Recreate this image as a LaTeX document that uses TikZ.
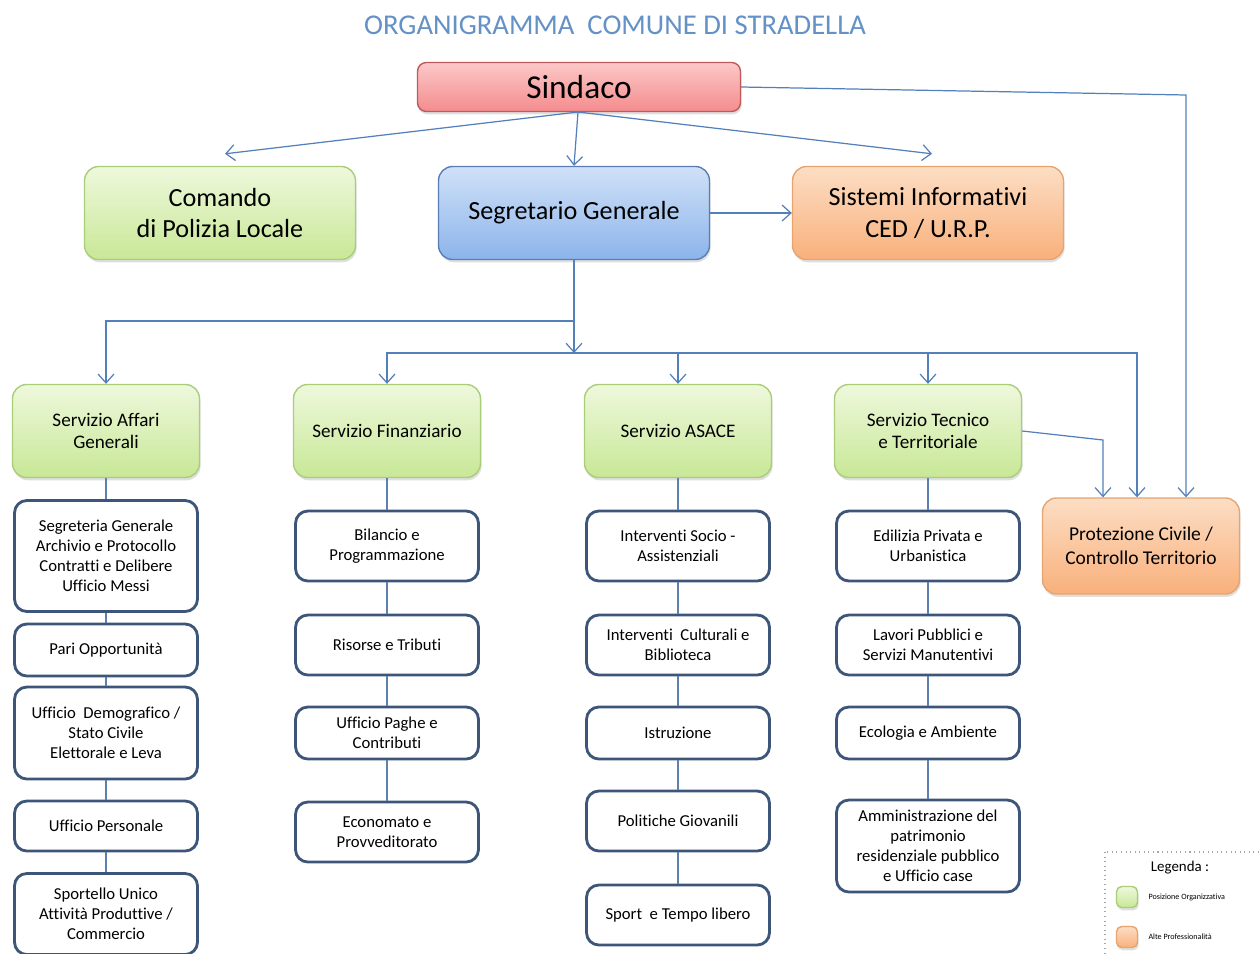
\documentclass[tikz,border=0pt]{standalone}
\usepackage{fontspec}
\setmainfont{Carlito}[Ligatures={NoCommon}]
\usepackage{tikz}
\usetikzlibrary{positioning,arrows.meta,shadows,calc}
\definecolor{linea}{RGB}{84,128,186}
\definecolor{titolo}{RGB}{100,145,198}
\definecolor{verdesu}{RGB}{238,248,220}
\definecolor{verdegiu}{RGB}{200,232,150}
\definecolor{verdebordo}{RGB}{170,205,120}
\definecolor{blusu}{RGB}{208,225,248}
\definecolor{blugiu}{RGB}{140,180,235}
\definecolor{blubordo}{RGB}{90,125,180}
\definecolor{arancsu}{RGB}{252,222,196}
\definecolor{arancgiu}{RGB}{249,176,124}
\definecolor{arancbordo}{RGB}{230,165,110}
\definecolor{rossosu}{RGB}{252,200,200}
\definecolor{rossogiu}{RGB}{244,140,142}
\definecolor{rossobordo}{RGB}{190,90,90}
\definecolor{ufficio}{RGB}{60,85,120}

\tikzset{
    conn/.style={draw=linea, line width=0.7pt, -{Straight Barb[length=5pt,width=9pt]}},
    link/.style={draw=linea!80!gray, line width=0.7pt},
    ombra/.style={drop shadow={opacity=0.25, shadow xshift=0.6pt, shadow yshift=-1.6pt}},
    verde/.style={rounded corners=8pt, draw=verdebordo, line width=0.8pt, top color=verdesu, bottom color=verdegiu, ombra, align=center, inner sep=0pt},
    arancio/.style={rounded corners=8pt, draw=arancbordo, line width=0.8pt, top color=arancsu, bottom color=arancgiu, ombra, align=center, inner sep=0pt},
    uff/.style={rounded corners=7pt, draw=ufficio, line width=1.6pt, fill=white, align=center, inner sep=0pt,
        minimum width=3.66cm, font=\fontsize{9.5}{11.4}\selectfont},
}

\begin{document}
\begin{tikzpicture}[x=0.02cm, y=-0.02cm]
    \useasboundingbox (0,0) rectangle (1260,953);
    \fill[white] (0,0) rectangle (1260,953);

    % TITOLO
    \node[text=titolo, font=\fontsize{16.3}{19}\selectfont] (titolo) at (615,25) {ORGANIGRAMMA\ \ COMUNE DI STRADELLA};

    % VERTICE
    \node[rounded corners=5pt, draw=rossobordo, line width=0.8pt, top color=rossosu, bottom color=rossogiu, ombra,
          minimum width=6.46cm, minimum height=0.98cm, font=\fontsize{19}{22}\selectfont] (sin) at (579,87) {Sindaco};

    % SECONDO LIVELLO
    \node[verde, minimum width=5.42cm, minimum height=1.86cm, font=\fontsize{14.9}{18}\selectfont] (pol) at (220,213) {Comando\\di Polizia Locale};
    \node[rounded corners=8pt, draw=blubordo, line width=0.8pt, top color=blusu, bottom color=blugiu, ombra, inner sep=0pt,
          minimum width=5.42cm, minimum height=1.86cm, font=\fontsize{14.9}{18}\selectfont] (seg) at (574,213) {Segretario Generale};
    \node[arancio, minimum width=5.42cm, minimum height=1.86cm, font=\fontsize{14.9}{18}\selectfont] (ced) at (928,213) {Sistemi Informativi\\CED / U.R.P.};

    % SERVIZI
    \tikzset{serv/.style={verde, minimum width=3.74cm, minimum height=1.86cm, font=\fontsize{10.9}{13}\selectfont}}
    \node[serv] (aff) at (106,431) {Servizio Affari\\Generali};
    \node[serv] (fin) at (387,431) {Servizio Finanziario};
    \node[serv] (asa) at (678,431) {Servizio ASACE};
    \node[serv] (tec) at (928,431) {Servizio Tecnico\\e Territoriale};
    \node[arancio, minimum width=3.94cm, minimum height=1.92cm, font=\fontsize{11.1}{13.6}\selectfont] (pro) at (1141,546) {Protezione Civile /\\Controllo Territorio};

    % UFFICI - Affari Generali
    \node[uff, minimum height=2.22cm] (aff1) at (106,556) {Segreteria Generale\\Archivio e Protocollo\\Contratti e Delibere\\Ufficio Messi};
    \node[uff, minimum height=1.04cm] (aff2) at (106,650) {Pari Opportunità};
    \node[uff, minimum height=1.84cm] (aff3) at (106,733) {Ufficio\ \ Demografico /\\Stato Civile\\Elettorale e Leva};
    \node[uff, minimum height=1.0cm] (aff4) at (106,826) {Ufficio Personale};
    \node[uff, minimum height=1.62cm] (aff5) at (106,914) {Sportello Unico\\Attività Produttive /\\Commercio};

    % UFFICI - Finanziario
    \node[uff, minimum height=1.4cm] (fin1) at (387,546) {Bilancio e\\Programmazione};
    \node[uff, minimum height=1.2cm] (fin2) at (387,645) {Risorse e Tributi};
    \node[uff, minimum height=1.04cm] (fin3) at (387,733) {Ufficio Paghe e\\Contributi};
    \node[uff, minimum height=1.2cm] (fin4) at (387,832) {Economato e\\Provveditorato};

    % UFFICI - ASACE
    \node[uff, minimum height=1.4cm] (asa1) at (678,546) {Interventi Socio -\\Assistenziali};
    \node[uff, minimum height=1.2cm] (asa2) at (678,645) {Interventi\ \ Culturali e\\Biblioteca};
    \node[uff, minimum height=1.04cm] (asa3) at (678,733) {Istruzione};
    \node[uff, minimum height=1.2cm] (asa4) at (678,821) {Politiche Giovanili};
    \node[uff, minimum height=1.2cm] (asa5) at (678,915) {Sport\ \ e Tempo libero};

    % UFFICI - Tecnico
    \node[uff, minimum height=1.4cm] (tec1) at (928,546) {Edilizia Privata e\\Urbanistica};
    \node[uff, minimum height=1.2cm] (tec2) at (928,645) {Lavori Pubblici e\\Servizi Manutentivi};
    \node[uff, minimum height=1.04cm] (tec3) at (928,733) {Ecologia e Ambiente};
    \node[uff, minimum height=1.84cm] (tec4) at (928,846) {Amministrazione del\\patrimonio\\residenziale pubblico\\e Ufficio case};

    % COLLEGAMENTI DAL SINDACO
    \coordinate (sinbase) at (578,112);
    \coordinate (sinturn) at (1186,95);
    \draw[conn] (sinbase) -- ($(pol.north)+(5,-12)$);
    \draw[conn] (sinbase) -- (seg.north);
    \draw[conn] (sinbase) -- ($(ced.north)+(4,-12)$);
    \draw[conn] (sin.east) -- (sinturn) -- (sinturn |- pro.north);
    \draw[conn] (seg.east) -- (ced.west);

    % COLLEGAMENTI DAL SEGRETARIO
    \coordinate (split) at (574,321);
    \coordinate (bus) at (574,353);
    \coordinate (busend) at (1137,353);
    \draw[conn] (seg.south) -- (bus);
    \draw[conn] (split) -| (aff.north);
    \draw[conn] (bus) -| (fin.north);
    \draw[conn] (bus) -| (asa.north);
    \draw[conn] (bus) -| (tec.north);
    \draw[conn] (bus) -- (busend) -- (busend |- pro.north);
    \coordinate (tecturn) at (1103,440);
    \draw[conn] (tec.east) -- (tecturn) -- (tecturn |- pro.north);

    % LINEE VERTICALI DEGLI UFFICI
    \foreach \a/\b in {aff/aff1,aff1/aff2,aff2/aff3,aff3/aff4,aff4/aff5,
                       fin/fin1,fin1/fin2,fin2/fin3,fin3/fin4,
                       asa/asa1,asa1/asa2,asa2/asa3,asa3/asa4,asa4/asa5,
                       tec/tec1,tec1/tec2,tec2/tec3,tec3/tec4}
        \draw[link] (\a.south) -- (\b.north);

    % LEGENDA
    \draw[gray!70, dotted, line width=0.6pt] (1105,852) rectangle (1270,965);
    \node[font=\fontsize{8.5}{10}\selectfont] (leg) at (1180,868) {Legenda :};
    \node[verde, rounded corners=3pt, minimum size=0.42cm] (legv) at (1127,897) {};
    \node[arancio, rounded corners=3pt, minimum size=0.42cm] (lega) at (1127,937) {};
    \node[right=0.2cm of legv, font=\fontsize{4.6}{5}\selectfont, inner sep=0pt] (legvt) {Posizione Organizzativa};
    \node[right=0.2cm of lega, font=\fontsize{4.6}{5}\selectfont, inner sep=0pt] (legat) {Alte Professionalità};

\end{tikzpicture}
\end{document}
